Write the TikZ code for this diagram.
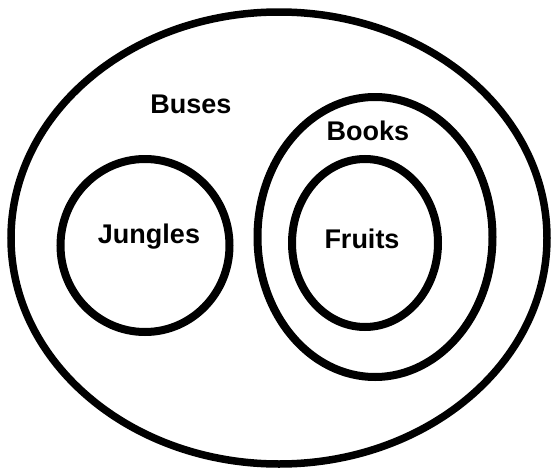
\documentclass[tikz,border=0pt]{standalone}
\usepackage{fontspec}
\setmainfont{Liberation Sans}
\begin{document}
\begin{tikzpicture}[x=1pt,y=-1pt,
  setline/.style={draw=black,line width=8pt},
  lbl/.style={font=\fontsize{27}{31}\selectfont\bfseries,anchor=base,inner sep=0pt}]
\useasboundingbox (0,0) rectangle (552,471);
\fill[white] (0,0) rectangle (552,471);
\draw[setline,line width=7.5pt] (279,238) ellipse [x radius=268, y radius=226];
\draw[setline] (145,245.5) ellipse [x radius=84.5, y radius=86.5];
\draw[setline] (375,237) ellipse [x radius=117.5, y radius=140];
\draw[setline] (365,243) ellipse [x radius=73, y radius=84];
\node[lbl] (buses) at (191,113) {Buses};
\node[lbl] (books) at (368,140) {Books};
\node[lbl] (jungles) at (149,243) {Jungles};
\node[lbl] (fruits) at (362,248) {Fruits};
\end{tikzpicture}
\end{document}
